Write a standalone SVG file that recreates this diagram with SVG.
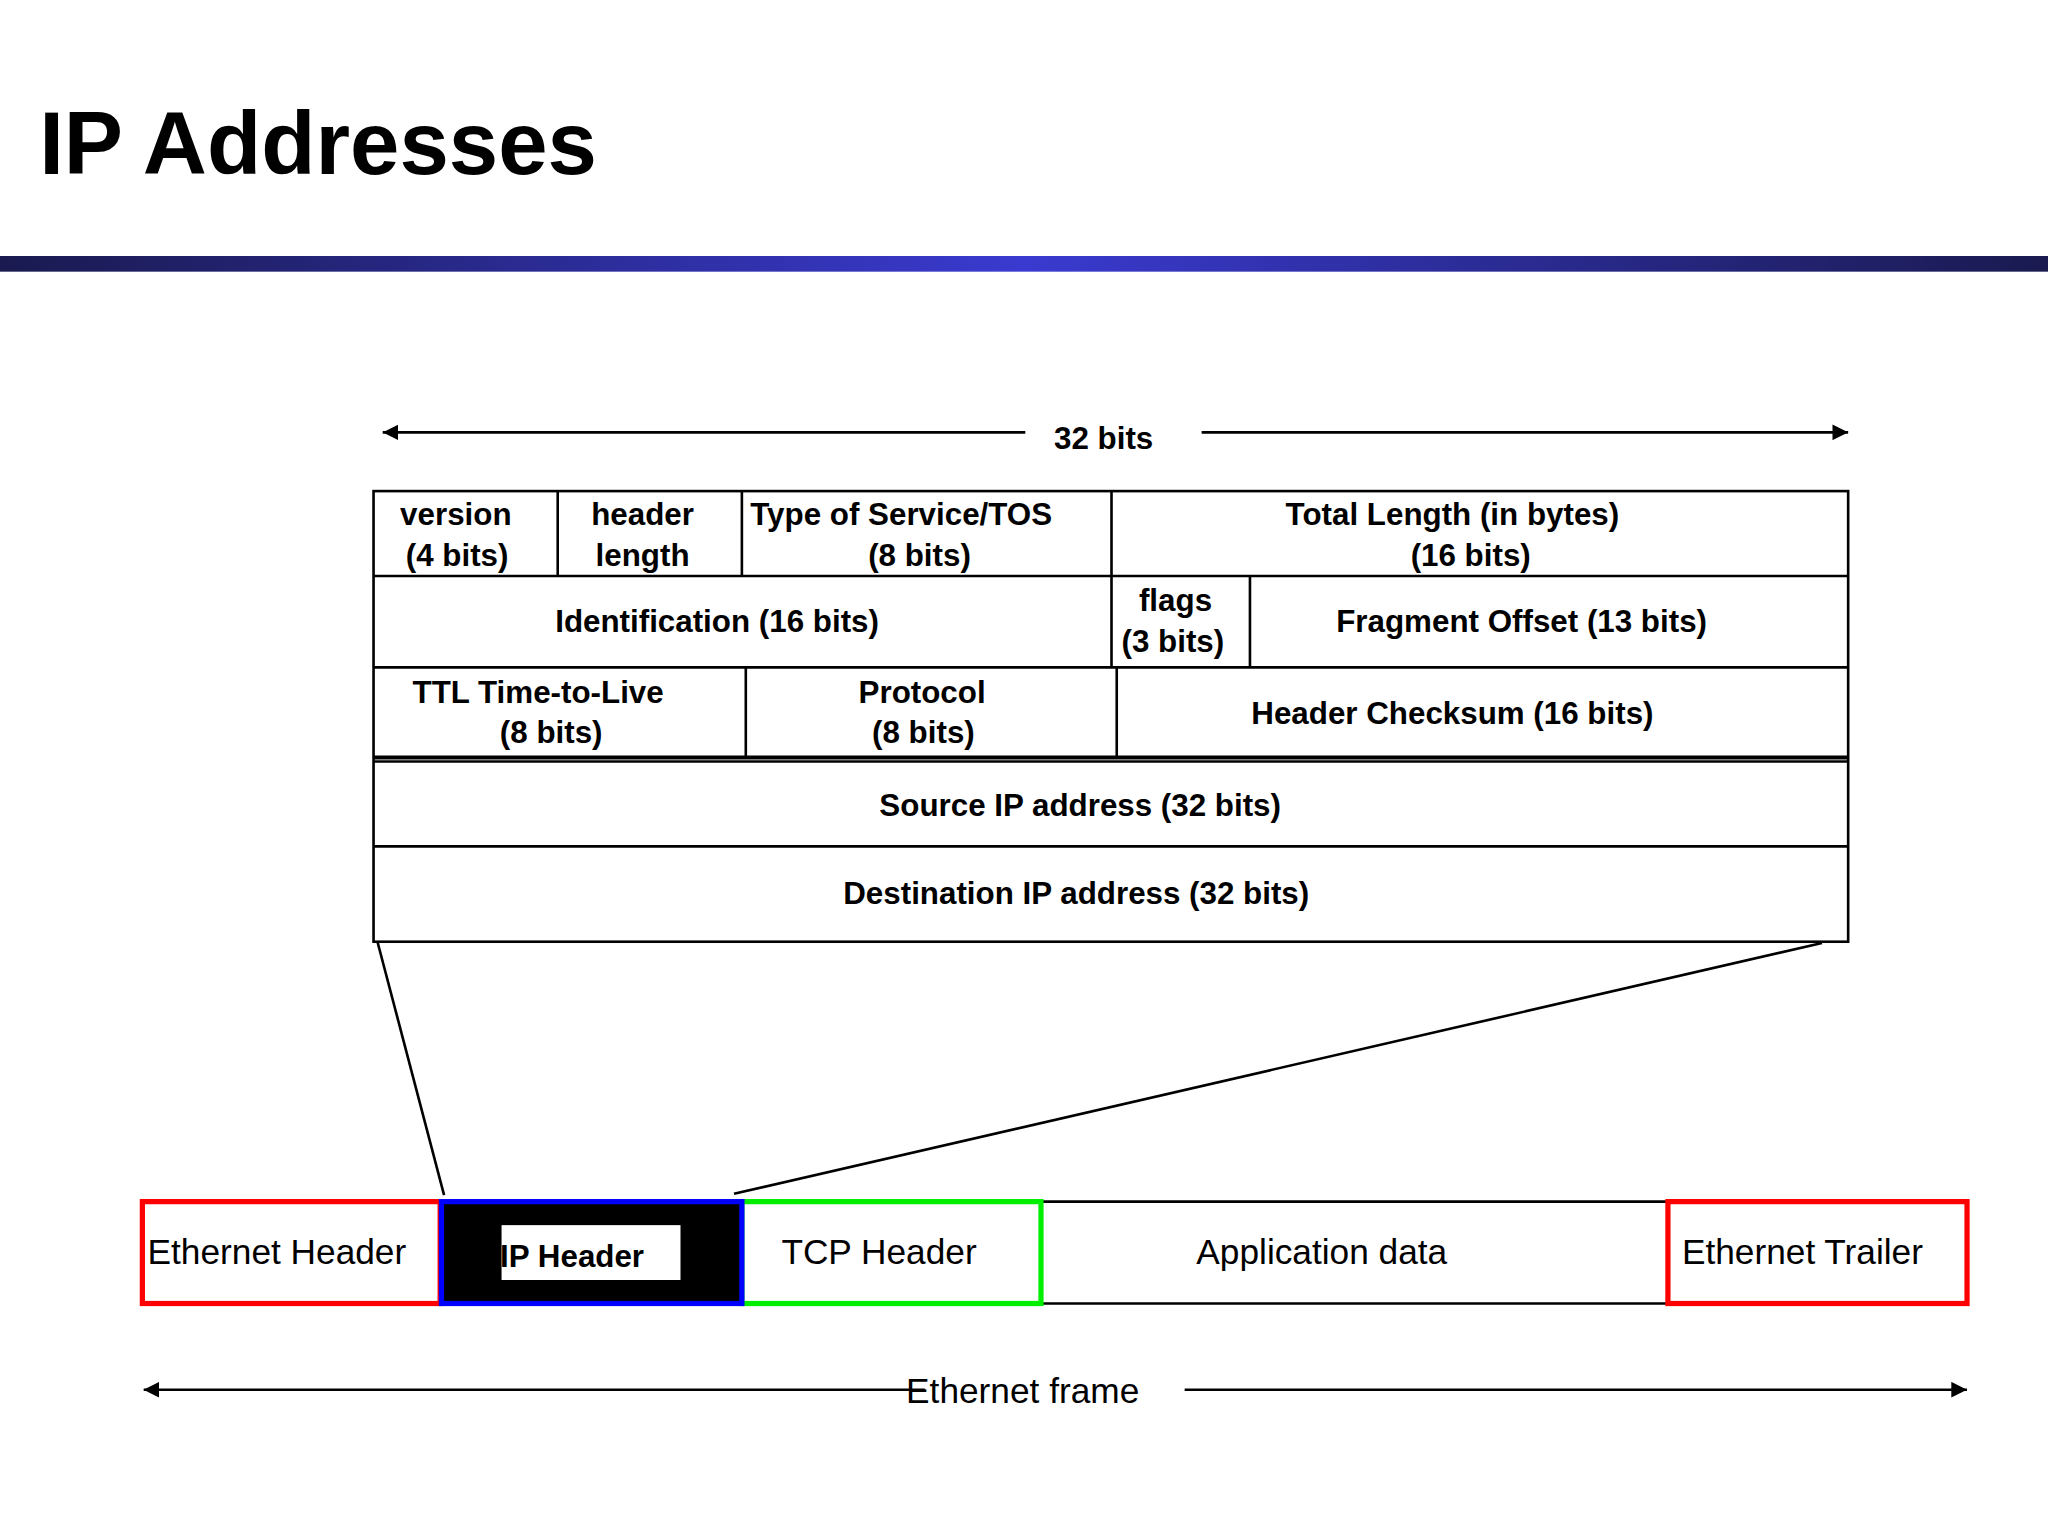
<svg xmlns="http://www.w3.org/2000/svg" width="2048" height="1536" viewBox="0 0 2048 1536">
<defs>
<linearGradient id="bar" x1="0" x2="1" y1="0" y2="0"><stop offset="0" stop-color="#1a1a50"/><stop offset="0.5" stop-color="#3a3ad0"/><stop offset="1" stop-color="#1a1a50"/></linearGradient>
<marker id="ar" viewBox="0 0 10 10" refX="10" refY="5" markerWidth="12" markerHeight="12" markerUnits="userSpaceOnUse" orient="auto-start-reverse"><path d="M0,0L10,5L0,10z" fill="#000"/></marker>
<style>
.t{font-family:"Liberation Sans Narrow","Liberation Sans",Arial,sans-serif;font-stretch:condensed;font-weight:bold;font-size:24px;text-anchor:middle}
.f{font-family:"Liberation Sans Narrow","Liberation Sans",Arial,sans-serif;font-stretch:condensed;font-size:27px;text-anchor:middle}
.c{fill:none;stroke:#000;stroke-width:2}
</style>
</defs>
<rect width="2048" height="1536" fill="#fff"/>
<g transform="scale(1.30612)">
<text x="30" y="133" font-family="Liberation Sans,Arial,sans-serif" font-weight="bold" font-size="68">IP Addresses</text>
<rect x="0" y="196" width="1568" height="12" fill="url(#bar)"/>
<g id="connectors" class="c">
<line x1="785" y1="331" x2="293" y2="331" marker-end="url(#ar)"/>
<line x1="920" y1="331" x2="1415" y2="331" marker-end="url(#ar)"/>
<line x1="289" y1="721" x2="340" y2="915"/>
<line x1="1395" y1="722" x2="562" y2="914"/>
<line x1="708" y1="1064" x2="110" y2="1064" marker-end="url(#ar)"/>
<line x1="907" y1="1064" x2="1506" y2="1064" marker-end="url(#ar)"/>
</g>
<text class="t" x="845" y="344" font-size="36">32 bits</text>
<g id="table" class="c">
<rect x="286" y="376" width="1129" height="345"/>
<line x1="286" y1="441" x2="1415" y2="441"/>
<line x1="286" y1="511" x2="1415" y2="511"/>
<line x1="286" y1="580" x2="1415" y2="580" stroke-width="3"/>
<line x1="286" y1="583" x2="1415" y2="583"/>
<line x1="286" y1="648" x2="1415" y2="648"/>
<line x1="427" y1="376" x2="427" y2="441"/>
<line x1="568" y1="376" x2="568" y2="441"/>
<line x1="851" y1="376" x2="851" y2="511"/>
<line x1="957" y1="441" x2="957" y2="511"/>
<line x1="571" y1="511" x2="571" y2="580"/>
<line x1="855" y1="511" x2="855" y2="580"/>
</g>
<g id="fields">
<text class="t" x="349" y="402">version</text><text class="t" x="350" y="433">(4 bits)</text>
<text class="t" x="492" y="402">header</text><text class="t" x="492" y="433">length</text>
<text class="t" x="690" y="402">Type of Service/TOS</text><text class="t" x="704" y="433">(8 bits)</text>
<text class="t" x="1112" y="402">Total Length (in bytes)</text><text class="t" x="1126" y="433">(16 bits)</text>
<text class="t" x="549" y="484">Identification (16 bits)</text>
<text class="t" x="900" y="468">flags</text><text class="t" x="898" y="499">(3 bits)</text>
<text class="t" x="1165" y="484">Fragment Offset (13 bits)</text>
<text class="t" x="412" y="538">TTL Time-to-Live</text><text class="t" x="422" y="569">(8 bits)</text>
<text class="t" x="706" y="538">Protocol</text><text class="t" x="707" y="569">(8 bits)</text>
<text class="t" x="1112" y="554">Header Checksum (16 bits)</text>
<text class="t" x="827" y="625">Source IP address (32 bits)</text>
<text class="t" x="824" y="692">Destination IP address (32 bits)</text>
</g>
<g id="frame">
<line x1="797" y1="920" x2="1277" y2="920" stroke="#000" stroke-width="2"/>
<line x1="797" y1="998" x2="1277" y2="998" stroke="#000" stroke-width="2"/>
<rect x="109" y="920" width="228" height="78" fill="none" stroke="#f00" stroke-width="4"/>
<rect x="568" y="920" width="229" height="78" fill="none" stroke="#0e0" stroke-width="4"/>
<rect x="1277" y="920" width="229" height="78" fill="none" stroke="#f00" stroke-width="4"/>
<rect x="338" y="920" width="230" height="78" fill="#000" stroke="#00f" stroke-width="4"/>
<rect x="384" y="938" width="137" height="42" fill="#fff"/>
<text class="f" x="212" y="968">Ethernet Header</text>
<text class="t" x="438" y="970" font-size="32">IP Header</text>
<text class="f" x="673" y="968">TCP Header</text>
<text class="f" x="1012" y="968" font-size="32">Application data</text>
<text class="f" x="1380" y="968">Ethernet Trailer</text>
<text class="f" x="783" y="1074" font-size="30">Ethernet frame</text>
</g>
</g>
</svg>
